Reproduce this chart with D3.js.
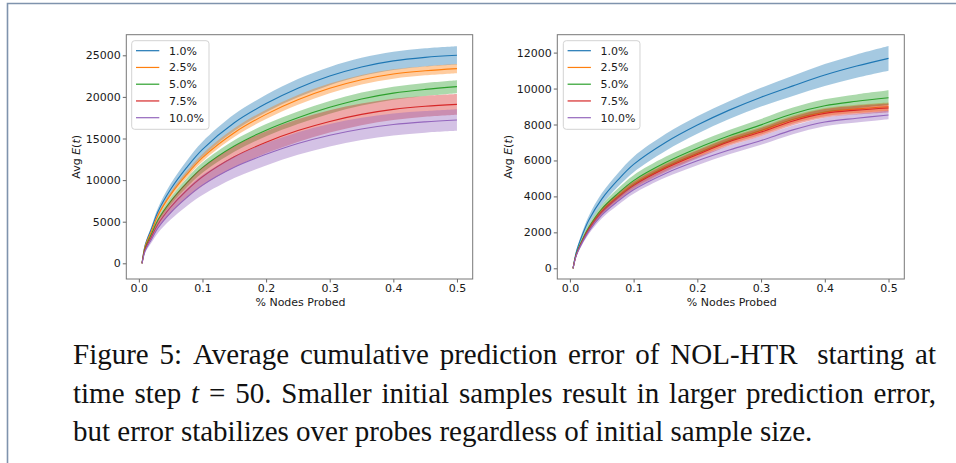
<!DOCTYPE html>
<html><head><meta charset="utf-8">
<script src="https://cdn.jsdelivr.net/npm/d3@7/dist/d3.min.js"></script>
<style>body{margin:0;background:#fff}svg{display:block}</style>
</head><body>
<svg id="c" width="956" height="463"></svg>
<script>
// ---------- data ----------
const X = [0.005, 0.01, 0.02, 0.03, 0.05, 0.075, 0.1, 0.15, 0.2, 0.25, 0.3, 0.35, 0.4, 0.45, 0.5];
const seriesLabels = ["1.0%", "2.5%", "5.0%", "7.5%", "10.0%"];
const colors = ["#1f77b4", "#ff7f0e", "#2ca02c", "#d62728", "#9467bd"];

const leftMean1 = [0, 2200, 4200, 6200, 8900, 11500, 13700, 16900, 19200, 21050, 22500, 23600, 24330, 24750, 25000];
const leftMean2 = [0, 2050, 3900, 5750, 8250, 10650, 12700, 15700, 17900, 19650, 21030, 22060, 22750, 23140, 23400];
const leftMean3 = [0, 1850, 3550, 5200, 7450, 9650, 11500, 14100, 16000, 17500, 18750, 19750, 20450, 20900, 21230];
const leftMean4 = [0, 1700, 3200, 4700, 6750, 8750, 10400, 12800, 14550, 15950, 17050, 17900, 18500, 18870, 19100];
const leftMean5 = [0, 1500, 2900, 4250, 6100, 7900, 9400, 11550, 13100, 14400, 15400, 16150, 16680, 17000, 17220];
const leftStd1 = [0, 150, 300, 450, 650, 800, 900, 1000, 1050, 1100, 1100, 1100, 1100, 1100, 1100];
const leftStd2 = [0, 80, 160, 240, 330, 400, 450, 520, 560, 580, 580, 570, 560, 550, 550];
const leftStd3 = [0, 110, 220, 320, 450, 550, 620, 700, 740, 760, 770, 780, 780, 780, 780];
const leftStd4 = [0, 180, 350, 520, 750, 950, 1100, 1250, 1330, 1360, 1340, 1300, 1270, 1250, 1240];
const leftStd5 = [0, 200, 400, 600, 850, 1050, 1200, 1300, 1350, 1360, 1350, 1330, 1320, 1300, 1300];

const rightMean1 = [0, 900, 1900, 2700, 3850, 4900, 5780, 7000, 7970, 8800, 9520, 10150, 10750, 11250, 11680];
const rightMean2 = [0, 760, 1580, 2230, 3180, 3990, 4670, 5630, 6400, 7110, 7660, 8280, 8690, 8870, 8990];
const rightMean3 = [0, 780, 1620, 2300, 3300, 4150, 4880, 5880, 6680, 7370, 7980, 8600, 9040, 9290, 9490];
const rightMean4 = [0, 740, 1540, 2180, 3120, 3920, 4600, 5560, 6330, 7040, 7580, 8200, 8620, 8800, 8918];
const rightMean5 = [0, 700, 1460, 2070, 2960, 3720, 4370, 5280, 5980, 6580, 7110, 7700, 8140, 8350, 8528];
const rightStd1 = [0, 80, 170, 240, 320, 380, 430, 470, 490, 500, 520, 560, 610, 650, 690];
const rightStd2 = [0, 45, 90, 130, 170, 190, 200, 210, 215, 215, 220, 225, 230, 235, 240];
const rightStd3 = [0, 60, 130, 180, 240, 280, 300, 320, 325, 325, 330, 340, 360, 385, 410];
const rightStd4 = [0, 50, 100, 140, 180, 200, 210, 220, 225, 225, 230, 235, 240, 245, 250];
const rightStd5 = [0, 50, 110, 150, 190, 215, 225, 235, 240, 240, 240, 240, 240, 240, 240];

const xTicks = [0, 0.1, 0.2, 0.3, 0.4, 0.5];
const leftYTicks = [0, 5000, 10000, 15000, 20000, 25000];
const rightYTicks = [0, 2000, 4000, 6000, 8000, 10000, 12000];
const xLabel = "% Nodes Probed";

const captionLine1 = ["Figure", "5:", "Average", "cumulative", "prediction", "error", "of", "NOL-HTR", "starting", "at"];
const captionLine2 = ["time", "step", "t", "=", "50.", "Smaller", "initial", "samples", "result", "in", "larger", "prediction", "error,"];
const captionLine3 = "but error stabilizes over probes regardless of initial sample size.";

// ---------- drawing ----------
const svg = d3.select("#c");
svg.append("rect").attr("width", 956).attr("height", 463).attr("fill", "#fff");
// page frame
svg.append("path").attr("d", "M7.5,463 V3.5 H956").attr("fill", "none")
  .attr("stroke", "#7f93ad").attr("stroke-width", 1.6);

const FONT = "DejaVu Sans, sans-serif";

function panel(cfg) {
  const g = svg.append("g");
  const x = d3.scaleLinear().domain([-0.01975, 0.52475]).range([cfg.x0, cfg.x1]);
  const y = d3.scaleLinear().domain(cfg.yDomain).range([cfg.y1, cfg.y0]);
  const curve = d3.curveCatmullRom.alpha(0.5);

  cfg.means.forEach((m, i) => {
    const s = cfg.stds[i];
    const pts = X.map((xv, k) => ({x: xv, m: m[k], s: s[k]}));
    const line = d3.line().x(d => x(d.x)).y(d => y(d.m)).curve(curve);
    const area = d3.area().x(d => x(d.x)).y0(d => y(d.m - d.s)).y1(d => y(d.m + d.s)).curve(curve);
    g.append("path").attr("d", line(pts)).attr("fill", "none")
      .attr("stroke", colors[i]).attr("stroke-width", 1.1);
    g.append("path").attr("d", area(pts)).attr("fill", colors[i]).attr("fill-opacity", 0.4);
  });

  // axes
  const ax = g.append("g").attr("transform", `translate(0,${cfg.y1})`)
    .call(d3.axisBottom(x).tickValues(xTicks).tickFormat(d3.format(".1f")).tickSize(3.5).tickPadding(2));
  const ay = g.append("g").attr("transform", `translate(${cfg.x0},0)`)
    .call(d3.axisLeft(y).tickValues(cfg.yTicks).tickFormat(d3.format("d")).tickSize(3.5).tickPadding(2));
  [ax, ay].forEach(a => {
    a.select(".domain").remove();
    a.selectAll(".tick line").attr("stroke", "#555").attr("stroke-width", 0.9);
    a.selectAll(".tick text").attr("fill", "#1a1a1a").style("font-family", FONT).style("font-size", "11px");
  });
  // spines
  g.append("rect").attr("x", cfg.x0).attr("y", cfg.y0)
    .attr("width", cfg.x1 - cfg.x0).attr("height", cfg.y1 - cfg.y0)
    .attr("fill", "none").attr("stroke", "#777").attr("stroke-width", 1);

  // axis labels
  g.append("text").attr("x", (cfg.x0 + cfg.x1) / 2 + 1).attr("y", 306)
    .attr("text-anchor", "middle").attr("fill", "#1a1a1a")
    .style("font-family", FONT).style("font-size", "11px").text(xLabel);
  const yl = g.append("text")
    .attr("transform", `translate(${cfg.ylabX},${(cfg.y0 + cfg.y1) / 2}) rotate(-90)`)
    .attr("text-anchor", "middle").attr("dy", "0.35em").attr("fill", "#1a1a1a")
    .style("font-family", FONT).style("font-size", "11px");
  yl.append("tspan").text("Avg ");
  yl.append("tspan").attr("font-style", "italic").text("E");
  yl.append("tspan").text("(");
  yl.append("tspan").attr("font-style", "italic").text("t");
  yl.append("tspan").text(")");

  // legend
  const lg = g.append("g").attr("transform", `translate(${cfg.legX},40.7)`);
  lg.append("rect").attr("width", cfg.legW).attr("height", 88.6).attr("rx", 3)
    .attr("fill", "#fff").attr("fill-opacity", 0.8).attr("stroke", "#d3d3d3").attr("stroke-width", 1);
  seriesLabels.forEach((lab, i) => {
    const yy = 10 + i * 16.75;
    lg.append("line").attr("x1", 4.3).attr("x2", 27.6).attr("y1", yy).attr("y2", yy)
      .attr("stroke", colors[i]).attr("stroke-width", 1.2);
    lg.append("text").attr("x", 37.3).attr("y", yy).attr("dy", "0.36em").attr("fill", "#1a1a1a")
      .style("font-family", FONT).style("font-size", "11px").text(lab);
  });
}

panel({x0: 126.3, x1: 472.7, y0: 34.7, y1: 279, yDomain: [-1887, 27476], yTicks: leftYTicks,
  means: [leftMean1, leftMean2, leftMean3, leftMean4, leftMean5],
  stds: [leftStd1, leftStd2, leftStd3, leftStd4, leftStd5], ylabX: 76.3, legX: 131.7, legW: 77.3});
panel({x0: 557.3, x1: 904.3, y0: 34.7, y1: 279, yDomain: [-595, 12996], yTicks: rightYTicks,
  means: [rightMean1, rightMean2, rightMean3, rightMean4, rightMean5],
  stds: [rightStd1, rightStd2, rightStd3, rightStd4, rightStd5], ylabX: 507.7, legX: 563.3, legW: 76.7});

// ---------- caption ----------
const CAP_FONT = "Liberation Serif, Times New Roman, serif";
const CAP_SIZE = 29;
const capX = 73, capW = 863;
function justifyLine(words, yBase, italicIdx, gapWeights) {
  const t = svg.append("text").attr("y", yBase).attr("fill", "#111")
    .style("font-family", CAP_FONT).style("font-size", CAP_SIZE + "px");
  const spans = words.map((w, i) => t.append("tspan").attr("font-style", italicIdx.includes(i) ? "italic" : null).text(w));
  const widths = spans.map(s => s.node().getComputedTextLength());
  const total = d3.sum(widths);
  const weights = gapWeights || words.slice(1).map(() => 1);
  const gapUnit = (capW - total) / d3.sum(weights);
  let cx = capX;
  spans.forEach((s, i) => {
    s.attr("x", cx);
    cx += widths[i] + (i < weights.length ? gapUnit * weights[i] : 0);
  });
}
justifyLine(captionLine1, 364, [], [1, 1, 1, 1, 1, 1, 1, 1.8, 1]);
justifyLine(captionLine2, 402.5, [2]);
svg.append("text").attr("x", capX).attr("y", 441).attr("fill", "#111")
  .style("font-family", CAP_FONT).style("font-size", CAP_SIZE + "px").text(captionLine3);
</script>
</body></html>
